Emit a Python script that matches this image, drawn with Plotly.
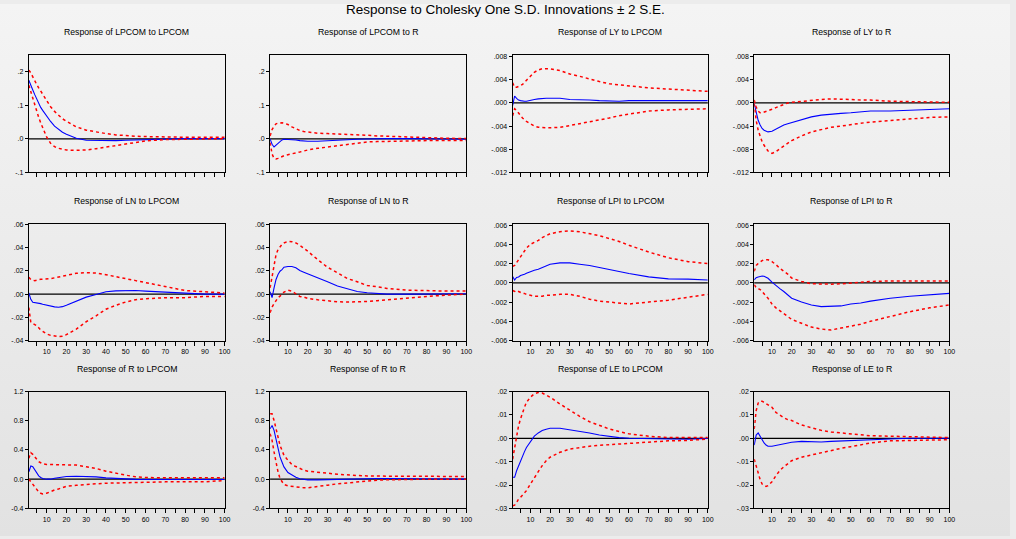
import base64
import plotly.graph_objects as go

# ---------------- data ----------------
periods = [1, 2, 3, 4, 5, 6, 7, 8, 10, 12, 14, 16, 18, 20, 25, 30, 35, 40, 45, 50, 55, 60, 70, 80, 90, 100]

lpcom_lpcom = [.175, .158, .146, .132, .118, .106, .094, .085, .068, .052, .038, .028, .020, .014, .002, -.004, -.005, -.005, -.005, -.004, -.003, -.002, -.001, .001, .001, .001]
lpcom_lpcom_hi = [.205, .197, .185, .172, .162, .152, .142, .133, .115, .096, .082, .070, .060, .053, .036, .026, .020, .016, .012, .009, .008, .007, .005, .005, .005, .005]
lpcom_lpcom_lo = [.160, .140, .122, .100, .082, .064, .048, .035, .006, -.013, -.023, -.028, -.031, -.033, -.034, -.033, -.029, -.024, -.019, -.014, -.010, -.006, -.002, -.001, .001, .001]

lpcom_r = [0, -.016, -.024, -.019, -.012, -.007, -.003, -.001, -.001, -.002, -.003, -.005, -.006, -.007, -.007, -.005, -.003, -.002, -.001, 0, .001, .001, .001, .001, -.001, -.001]
lpcom_r_hi = [.009, .028, .038, .045, .047, .048, .048, .047, .043, .036, .030, .025, .022, .020, .017, .016, .015, .015, .012, .011, .009, .008, .004, .003, .002, .001]
lpcom_r_lo = [-.011, -.045, -.058, -.060, -.058, -.055, -.052, -.050, -.047, -.045, -.042, -.039, -.036, -.033, -.028, -.024, -.020, -.016, -.012, -.009, -.008, -.007, -.006, -.005, -.005, -.005]

ly_lpcom = [-.0004, .0012, .0008, .0005, .0004, .0003, .0003, .0003, .0005, .0006, .0007, .0008, .0008, .0008, .0008, .0006, .0006, .0005, .0004, .0003, .0003, .0004, .0004, .0004, .0004, .0004]
ly_lpcom_hi = [.0035, .0027, .0027, .0028, .0030, .0032, .0035, .0039, .0046, .0053, .0057, .0059, .0059, .0059, .0056, .0050, .0046, .0041, .0037, .0033, .0031, .0029, .0026, .0024, .0022, .0020]
ly_lpcom_lo = [-.0022, -.0010, -.0013, -.0018, -.0023, -.0026, -.0029, -.0032, -.0036, -.0040, -.0042, -.0043, -.0043, -.0043, -.0042, -.0039, -.0036, -.0032, -.0029, -.0026, -.0022, -.0019, -.0014, -.0012, -.0011, -.0010]

ly_r = [-.0001, -.0015, -.0030, -.0038, -.0044, -.0047, -.0049, -.0050, -.0049, -.0045, -.0041, -.0038, -.0036, -.0034, -.0029, -.0024, -.0021, -.0019, -.0018, -.0017, -.0015, -.0014, -.0014, -.0013, -.0011, -.0010]
ly_r_hi = [.0005, -.0007, -.0014, -.0017, -.0017, -.0016, -.0015, -.0014, -.0011, -.0008, -.0005, -.0002, 0, .0001, .0003, .0005, .0006, .0007, .0007, .0006, .0005, .0005, .0003, .0002, .0002, .0001]
ly_r_lo = [-.0001, -.0030, -.0047, -.0058, -.0067, -.0073, -.0078, -.0083, -.0087, -.0084, -.0079, -.0074, -.0069, -.0065, -.0057, -.0050, -.0046, -.0042, -.0040, -.0037, -.0035, -.0033, -.0030, -.0028, -.0025, -.0024]

ln_lpcom = [.001, -.0045, -.007, -.0072, -.0074, -.0078, -.0082, -.0087, -.0096, -.0105, -.011, -.0113, -.0108, -.0096, -.006, -.0026, -.0003, .002, .0028, .0031, .0031, .0026, .0017, .0006, 0, 0]
ln_lpcom_hi = [.0145, .0125, .012, .0116, .012, .0125, .0127, .0128, .0128, .0133, .014, .0148, .0155, .0162, .0179, .0184, .0182, .0167, .0153, .0133, .0116, .0099, .006, .0031, .002, .0009]
ln_lpcom_lo = [-.0116, -.0244, -.0252, -.026, -.0272, -.029, -.031, -.032, -.0343, -.0355, -.0362, -.0366, -.0363, -.0349, -.0301, -.0238, -.0187, -.013, -.0096, -.0068, -.0048, -.004, -.0031, -.0031, -.002, -.002]

ln_r = [.002, -.003, .0054, .0126, .0169, .0197, .0211, .0231, .0237, .0237, .0226, .0203, .0189, .0174, .014, .0106, .0069, .0043, .0023, .0011, .0003, 0, 0, .0003, .0003, .0003]
ln_r_hi = [.0054, .0154, .0269, .034, .0383, .0411, .0428, .044, .0454, .0451, .044, .042, .0397, .0369, .0297, .0231, .0183, .0134, .0106, .0074, .0063, .0049, .0034, .0029, .0026, .0026]
ln_r_lo = [-.016, -.0111, -.0083, -.0054, -.0031, -.0017, -.0003, .0017, .0034, .0026, .0003, -.002, -.0026, -.0037, -.0049, -.006, -.0066, -.0069, -.0069, -.0063, -.0057, -.0049, -.0031, -.002, -.0009, 0]

lpi_lpcom = [.00066, .0003, .00055, .0006, .00076, .0008, .0009, .001, .00117, .0013, .0014, .0016, .0018, .00193, .00207, .00207, .00193, .0018, .00159, .00138, .00117, .00097, .00062, .00041, .00038, .0003]
lpi_lpcom_hi = [.0017, .0018, .0021, .0024, .0028, .0031, .0034, .0036, .004, .0042, .0044, .0047, .0049, .0051, .0053, .0054, .0053, .0051, .0049, .0046, .0043, .0039, .0032, .0026, .0022, .002]
lpi_lpcom_lo = [-.0008, -.0009, -.0008, -.0009, -.001, -.0011, -.0011, -.0012, -.0013, -.0014, -.0014, -.0014, -.0013, -.0013, -.0012, -.0012, -.0014, -.0017, -.0019, -.002, -.0021, -.0022, -.002, -.0018, -.0015, -.0012]

lpi_r = [.0003, .00054, .0006, .00068, .0007, .00068, .0006, .00047, .00007, -.0003, -.0006, -.0009, -.00125, -.0016, -.002, -.0023, -.00247, -.00247, -.0024, -.0022, -.0021, -.0019, -.0016, -.0014, -.00125, -.0011]
lpi_r_hi = [.0012, .0018, .002, .0022, .0023, .0024, .0024, .0024, .0022, .0019, .0015, .0012, .0009, .0005, .00014, -.0001, -.00014, -.00014, -.0001, 0, .00003, .00014, .0002, .0002, .0002, .0002]
lpi_r_lo = [-.0002, -.0005, -.0006, -.0007, -.0009, -.0012, -.0014, -.0016, -.0022, -.0026, -.0029, -.0032, -.0035, -.0038, -.0042, -.0046, -.0048, -.0049, -.0047, -.0045, -.0043, -.004, -.0035, -.003, -.0026, -.0023]

r_lpcom = [.1, .18, .17, .124, .078, .046, .023, .009, 0, 0, .012, .022, .03, .037, .041, .041, .032, .018, .009, 0, -.003, -.005, -.005, -.005, -.005, -.005]
r_lpcom_hi = [.285, .363, .34, .308, .271, .239, .225, .211, .202, .202, .202, .202, .202, .202, .193, .17, .147, .11, .078, .055, .032, .023, .018, .018, .018, .018]
r_lpcom_lo = [0, -.037, -.074, -.106, -.143, -.175, -.193, -.202, -.193, -.166, -.148, -.134, -.112, -.097, -.083, -.069, -.064, -.055, -.052, -.05, -.037, -.037, -.037, -.037, -.037, -.018]

r_r = [.69, .736, .668, .532, .418, .305, .236, .168, .091, .055, .027, .005, -.005, -.009, -.009, -.005, 0, .003, .006, .009, .009, .009, .005, .002, 0, 0]
r_r_hi = [.895, .895, .805, .69, .577, .464, .395, .327, .259, .2, .173, .145, .123, .109, .091, .082, .068, .064, .05, .045, .041, .041, .041, .041, .036, .036]
r_r_lo = [.623, .532, .373, .214, .1, .009, -.036, -.073, -.091, -.1, -.109, -.116, -.118, -.118, -.105, -.082, -.064, -.05, -.041, -.023, -.014, -.009, 0, 0, 0, 0]

le_lpcom = [-.0167, -.0167, -.0139, -.0117, -.0096, -.0074, -.0057, -.0039, -.0014, .0009, .0023, .0033, .0039, .0043, .0043, .0037, .0031, .0023, .0014, .0007, .0003, 0, -.0003, -.0003, -.0004, -.0001]
le_lpcom_hi = [-.0089, -.0039, .0019, .0054, .0083, .0111, .0133, .0154, .0176, .0191, .0196, .0194, .0186, .0176, .0147, .0119, .0094, .0071, .0054, .004, .0029, .0019, .0009, .0003, .0003, .0003]
le_lpcom_lo = [-.0289, -.0286, -.0275, -.026, -.0253, -.0243, -.0234, -.0224, -.0196, -.0167, -.0143, -.0117, -.0096, -.0081, -.006, -.0046, -.0039, -.0034, -.003, -.0027, -.0024, -.002, -.0014, -.0011, -.0009, -.0003]

le_r = [-.0029, .0014, .0023, .0009, -.001, -.002, -.0029, -.0034, -.0034, -.003, -.0026, -.0023, -.002, -.0017, -.0013, -.0014, -.0016, -.0013, -.0011, -.0009, -.0006, -.0004, -.0003, 0, 0, 0]
le_r_hi = [.004, .0119, .0151, .0159, .0159, .0154, .0149, .0144, .0133, .0111, .0099, .0088, .008, .0076, .0057, .0044, .0034, .0027, .0023, .0017, .0014, .0011, .0009, .0006, .0004, .0003]
le_r_lo = [-.0089, -.0117, -.0153, -.0177, -.0196, -.0203, -.0206, -.0203, -.0186, -.016, -.0138, -.0122, -.011, -.0096, -.0081, -.0071, -.006, -.0051, -.0043, -.0036, -.0029, -.002, -.0011, -.0009, -.0007, -.0006]

titles = ["Response of LPCOM to LPCOM", "Response of LPCOM to R", "Response of LY to LPCOM", "Response of LY to R",
          "Response of LN to LPCOM", "Response of LN to R", "Response of LPI to LPCOM", "Response of LPI to R",
          "Response of R to LPCOM", "Response of R to R", "Response of LE to LPCOM", "Response of LE to R"]

yt_a = ([-0.1, 0, 0.1, 0.2], ["-.1", ".0", ".1", ".2"])
yt_b = ([-0.012, -0.008, -0.004, 0, 0.004, 0.008], ["-.012", "-.008", "-.004", ".000", ".004", ".008"])
yt_c = ([-0.04, -0.02, 0, 0.02, 0.04, 0.06], ["-.04", "-.02", ".00", ".02", ".04", ".06"])
yt_d = ([-0.006, -0.004, -0.002, 0, 0.002, 0.004, 0.006], ["-.006", "-.004", "-.002", ".000", ".002", ".004", ".006"])
yt_e = ([-0.4, 0, 0.4, 0.8, 1.2], ["-0.4", "0.0", "0.4", "0.8", "1.2"])
yt_f = ([-0.03, -0.02, -0.01, 0, 0.01, 0.02], ["-.03", "-.02", "-.01", ".00", ".01", ".02"])

panels = [
    (lpcom_lpcom, lpcom_lpcom_hi, lpcom_lpcom_lo, [-0.1, 0.25], yt_a),
    (lpcom_r, lpcom_r_hi, lpcom_r_lo, [-0.1, 0.25], yt_a),
    (ly_lpcom, ly_lpcom_hi, ly_lpcom_lo, [-0.012, 0.00827], yt_b),
    (ly_r, ly_r_hi, ly_r_lo, [-0.012, 0.00827], yt_b),
    (ln_lpcom, ln_lpcom_hi, ln_lpcom_lo, [-0.04, 0.0605], yt_c),
    (ln_r, ln_r_hi, ln_r_lo, [-0.04, 0.0605], yt_c),
    (lpi_lpcom, lpi_lpcom_hi, lpi_lpcom_lo, [-0.006, 0.00613], yt_d),
    (lpi_r, lpi_r_hi, lpi_r_lo, [-0.006, 0.00613], yt_d),
    (r_lpcom, r_lpcom_hi, r_lpcom_lo, [-0.4, 1.2], yt_e),
    (r_r, r_r_hi, r_r_lo, [-0.4, 1.2], yt_e),
    (le_lpcom, le_lpcom_hi, le_lpcom_lo, [-0.03, 0.02], yt_f),
    (le_r, le_r_hi, le_r_lo, [-0.03, 0.02], yt_f),
]

# ---------------- layout geometry ----------------
W, H = 1016, 539
col_px = [(29, 226), (271.7, 469), (515.7, 712), (758.7, 955)]
row_px = [(51.7, 170.7), (222.7, 341), (392.7, 511)]
FONT = "Liberation Sans, Arial, sans-serif"

fig = go.Figure()
layout = {}
annotations = []
shapes = []
xticks = list(range(5, 101, 5))

for i, (irf, hi, lo, yrange, (tv, tt)) in enumerate(panels):
    r, c = divmod(i, 4)
    n = i + 1
    xs = "x" if n == 1 else f"x{n}"
    ys = "y" if n == 1 else f"y{n}"
    xl, xr = col_px[c]
    yt, yb = row_px[r]
    for series, color, dash, w in ((irf, "#0000ff", "solid", 1.1),
                                   (hi, "#ff0000", "dot", 1.5),
                                   (lo, "#ff0000", "dot", 1.5)):
        fig.add_trace(go.Scatter(x=periods, y=series, mode="lines", xaxis=xs, yaxis=ys,
                                 line=dict(color=color, width=w, dash=dash),
                                 showlegend=False, hoverinfo="skip"))
    common = dict(showline=True, mirror=True, linecolor="black", linewidth=1,
                  ticks="outside", tickcolor="black", ticklen=3, tickwidth=1,
                  showgrid=False, zeroline=False, fixedrange=True,
                  tickfont=dict(family=FONT, size=7, color="#000000"))
    layout["xaxis" if n == 1 else f"xaxis{n}"] = dict(
        common, domain=[xl / W, xr / W], anchor=ys, range=[1, 100],
        tickvals=xticks, ticklen=4,
        ticktext=[(str(v) if v % 10 == 0 else "") for v in xticks],
        showticklabels=(r > 0))
    layout["yaxis" if n == 1 else f"yaxis{n}"] = dict(
        common, domain=[1 - yb / H, 1 - yt / H], anchor=xs, range=yrange,
        tickvals=tv, ticktext=tt)
    shapes.append(dict(type="line", xref=f"{xs} domain", yref=ys, x0=0, x1=1, y0=0, y1=0,
                       line=dict(color="black", width=1.3), layer="below"))
    annotations.append(dict(text=titles[i], xref="paper", yref="paper",
                            x=(xl + xr) / 2 / W, y=1 - (yt - 23) / H,
                            xanchor="center", yanchor="middle", showarrow=False,
                            font=dict(family=FONT, size=8.7, color="#000000")))

annotations.append(dict(text="Response to Cholesky One S.D. Innovations \u00b1 2 S.E.",
                        xref="paper", yref="paper", x=0.5, y=1 - 6 / H,
                        xanchor="center", yanchor="middle", showarrow=False,
                        font=dict(family=FONT, size=13.5, color="#000000")))

svg = ('<svg xmlns="http://www.w3.org/2000/svg" width="100" height="100" preserveAspectRatio="none">'
       '<defs><linearGradient id="g" x1="0" y1="0" x2="0" y2="1">'
       '<stop offset="0" stop-color="#f4f4f4"/><stop offset="1" stop-color="#e2e2e2"/>'
       '</linearGradient></defs><rect width="100" height="100" fill="url(#g)"/></svg>')
bg_src = "data:image/svg+xml;base64," + base64.b64encode(svg.encode()).decode()

fig.update_layout(
    **layout,
    width=W, height=H, autosize=False,
    margin=dict(l=0, r=0, t=0, b=0),
    paper_bgcolor="#ececec", plot_bgcolor="white",
    annotations=annotations, shapes=shapes,
    images=[dict(source=bg_src, xref="paper", yref="paper", x=0, y=1, sizex=1, sizey=1,
                 xanchor="left", yanchor="top", sizing="stretch", layer="below")],
    font=dict(family=FONT),
)

fig.write_html("out.html", config={"displayModeBar": False, "staticPlot": True},
               post_script="document.body.style.margin='0';document.body.style.overflow='hidden';")
